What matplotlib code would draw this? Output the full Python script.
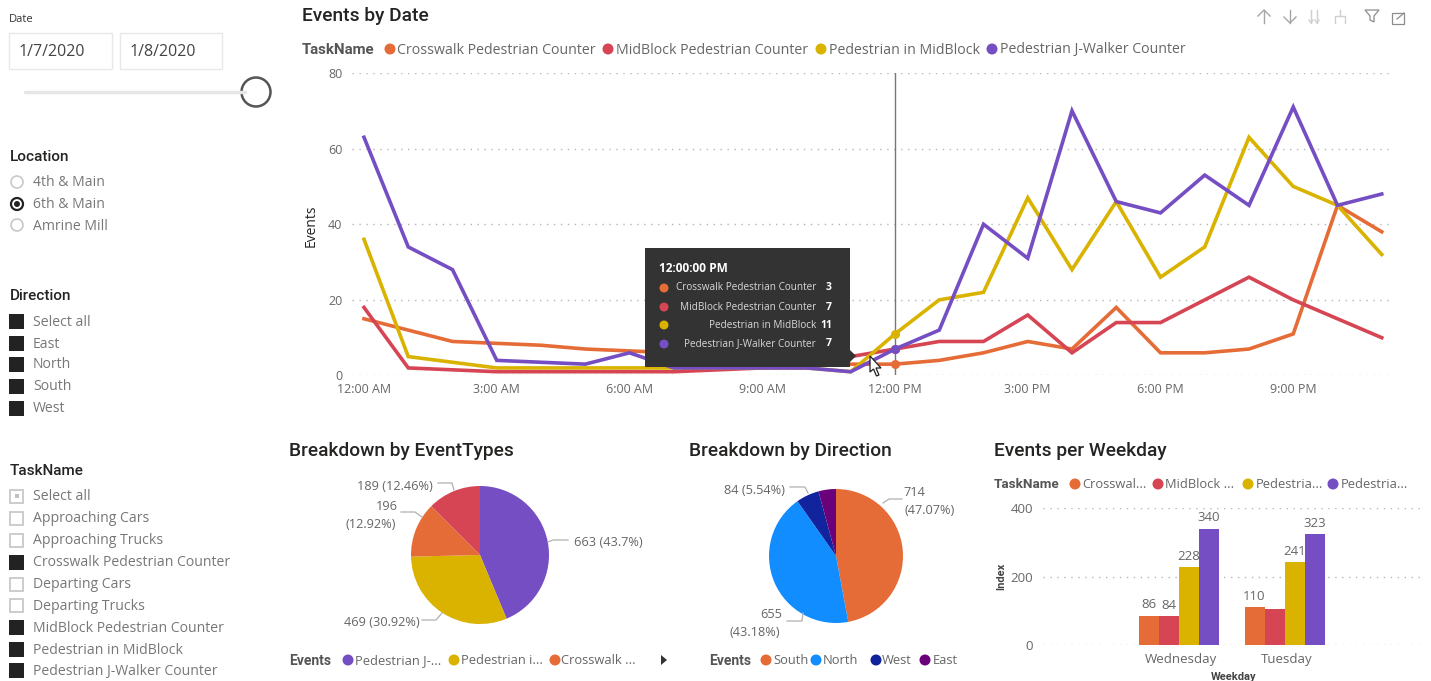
import numpy as np
import matplotlib
matplotlib.use('Agg')
import matplotlib.pyplot as plt
from matplotlib.patches import Rectangle, Circle, Polygon

W, H = 1431, 681

hours = list(range(24))
hour_ticks = [0, 3, 6, 9, 12, 15, 18, 21]
hour_labels = ['12:00 AM', '3:00 AM', '6:00 AM', '9:00 AM', '12:00 PM', '3:00 PM', '6:00 PM', '9:00 PM']
task_names = ['Crosswalk Pedestrian Counter', 'MidBlock Pedestrian Counter',
              'Pedestrian in MidBlock', 'Pedestrian J-Walker Counter']
crosswalk = [15, 12, 9, 8.5, 8, 7, 6.5, 6, 5, 5, 4, 3, 3, 4, 6, 9, 7, 18, 6, 6, 7, 11, 45, 38]
midblock = [18, 2, 1.5, 1, 1, 1, 1, 1, 1.5, 2, 2, 5, 7, 9, 9, 16, 6, 14, 14, 20, 26, 20, 15, 10]
in_midblock = [36, 5, 3.5, 2, 2, 2, 2, 2, 2, 2, 2, 1, 11, 20, 22, 47, 28, 46, 26, 34, 63, 50, 45, 32]
jwalker = [63, 34, 28, 4, 3.5, 3, 6, 2, 2, 2, 2, 1, 7, 12, 40, 31, 70, 46, 43, 53, 45, 71, 45, 48]

event_values = [663, 469, 196, 189]
direction_names = ['South', 'North', 'West', 'East']
direction_values = [714, 655, 84, 64]

weekdays = ['Wednesday', 'Tuesday']
weekday_crosswalk = [86, 110]
weekday_midblock = [84, 105]
weekday_in_midblock = [228, 241]
weekday_jwalker = [340, 323]
weekday_labels = [[86, 110], [84, None], [228, 241], [340, 323]]

locations = ['4th & Main', '6th & Main', 'Amrine Mill']
direction_items = ['Select all', 'East', 'North', 'South', 'West']
task_items = ['Select all', 'Approaching Cars', 'Approaching Trucks', 'Crosswalk Pedestrian Counter',
              'Departing Cars', 'Departing Trucks', 'MidBlock Pedestrian Counter',
              'Pedestrian in MidBlock', 'Pedestrian J-Walker Counter']
task_checked = [False, False, False, True, False, False, True, True, True]

ORANGE = '#E66C37'
RED = '#D64554'
YELLOW = '#D9B300'
PURPLE = '#744EC2'
BLUE = '#118DFF'
NAVY = '#12239E'
VIOLET = '#6B007B'
TEXT = '#666666'
DARK = '#252423'
task_colors = [ORANGE, RED, YELLOW, PURPLE]

plt.rcParams['font.family'] = ['Open Sans', 'DejaVu Sans']
BODY = 'Open Sans'
HEAD = 'Roboto'

fig = plt.figure(figsize=(W / 100, H / 100), dpi=100, facecolor='white')


# axes from pixel box, top-left origin
def px_axes(x0, y0, x1, y1):
    return fig.add_axes([x0 / W, 1 - y1 / H, (x1 - x0) / W, (y1 - y0) / H])


def style_cartesian(ax):
    for s in ax.spines.values():
        s.set_visible(False)
    ax.grid(axis='y', color='#b5b5b5', linestyle=(0, (1, 4)), linewidth=1)
    ax.set_axisbelow(True)
    ax.patch.set_alpha(0)


# Events by Date
ax = px_axes(352, 73, 1392, 375.5)
style_cartesian(ax)
ax.set_xlim((352 - 364) / 44.25, (1392 - 364) / 44.25)
ax.set_ylim(0, 80)
for vals, c in zip([crosswalk, midblock, in_midblock, jwalker], task_colors):
    ax.plot(hours, vals, color=c, linewidth=2.6, solid_joinstyle='miter', clip_on=False)
ax.axvline(12, color='#777777', linewidth=1, ymin=-0.005, zorder=5)
for vals, c in zip([crosswalk, midblock, in_midblock, jwalker], task_colors):
    ax.plot([12], [vals[12]], 'o', color=c, markersize=5.5, zorder=6, clip_on=False)
ax.set_xticks(hour_ticks, hour_labels)
ax.set_yticks([0, 20, 40, 60, 80])
ax.tick_params(length=0, labelcolor=TEXT, labelsize=9)
ax.tick_params(axis='x', pad=5.5)
ax.tick_params(axis='y', pad=7)
for t in ax.get_xticklabels() + ax.get_yticklabels():
    t.set_family(BODY)

# Breakdown pies
pie1 = px_axes(480 - 70, 555 - 70, 480 + 70, 555 + 70)
pie1.pie(event_values, colors=[PURPLE, YELLOW, ORANGE, RED], startangle=90, counterclock=False,
         radius=69 / 70, wedgeprops={'linewidth': 0})
pie1.set_xlim(-1, 1)
pie1.set_ylim(-1, 1)
pie2 = px_axes(836 - 70, 556 - 70, 836 + 70, 556 + 70)
pie2.pie(direction_values, colors=[ORANGE, BLUE, NAVY, VIOLET], startangle=90, counterclock=False,
         radius=67 / 70, wedgeprops={'linewidth': 0})
pie2.set_xlim(-1, 1)
pie2.set_ylim(-1, 1)

# Events per Weekday
bx = px_axes(1043, 508, 1425, 645)
style_cartesian(bx)
bx.set_xlim(0, 382)
bx.set_ylim(0, 400)
group_x = np.array([96, 201.5])
bar_w = 20
series = [weekday_crosswalk, weekday_midblock, weekday_in_midblock, weekday_jwalker]
for i, (vals, c) in enumerate(zip(series, task_colors)):
    xs = group_x + i * bar_w
    bx.bar(xs, vals, width=bar_w, color=c, align='edge', linewidth=0)
    for x, lab, v in zip(xs, weekday_labels[i], vals):
        if lab is not None:
            bx.text(x + bar_w / 2, v + 12, str(lab), ha='center', va='bottom', fontsize=9.5, color=TEXT,
                    family=BODY, clip_on=False)
bx.set_xticks(group_x + 2 * bar_w + 2, weekdays)
bx.set_yticks([0, 200, 400])
bx.tick_params(length=0, labelcolor=TEXT, labelsize=9.5)
bx.tick_params(axis='x', pad=6)
bx.tick_params(axis='y', pad=7)
for t in bx.get_xticklabels() + bx.get_yticklabels():
    t.set_family(BODY)

# overlay in pixels for everything that is report furniture
ov = fig.add_axes([0, 0, 1, 1], zorder=10)
ov.set_xlim(0, W)
ov.set_ylim(H, 0)
ov.axis('off')
ov.patch.set_alpha(0)


def txt(x, y, s, size=9.5, color=TEXT, weight='normal', ha='left', family=BODY, **kw):
    ov.text(x, y + 1, s, fontsize=size, color=color, fontweight=weight, ha=ha, va='center', family=family, **kw)


def dot(x, y, c, r=5.5):
    ov.add_patch(Circle((x, y), r, facecolor=c, edgecolor='none'))


def legend(x, y, title, title_size, items, size=9.5):
    txt(x, y, title, size=title_size, color='#555555', weight='bold', family=HEAD)
    for dx, lx, s, c in items:
        dot(dx, y, c)
        txt(lx, y, s, size=size)


# titles
TITLE_SIZE = 13.8
txt(302, 15, 'Events by Date', size=TITLE_SIZE, color=DARK, family=HEAD, weight='medium')
txt(289, 450, 'Breakdown by EventTypes', size=TITLE_SIZE, color=DARK, family=HEAD, weight='medium')
txt(689, 450, 'Breakdown by Direction', size=TITLE_SIZE, color=DARK, family=HEAD, weight='medium')
txt(994, 450, 'Events per Weekday', size=TITLE_SIZE, color=DARK, family=HEAD, weight='medium')

# legends
legend(302, 49, 'TaskName', 10.8, [(390, 397, task_names[0], ORANGE), (608, 616, task_names[1], RED),
                                   (821, 829, task_names[2], YELLOW), (992, 1000, task_names[3], PURPLE)], size=10.15)
legend(289, 660, 'Events', 10, [(348, 355, 'Pedestrian J-...', PURPLE), (454, 461, 'Pedestrian i...', YELLOW),
                                (555, 561, 'Crosswalk ...', ORANGE)], size=9.3)
legend(709, 660, 'Events', 10, [(766, 773, direction_names[0], ORANGE), (816, 823, direction_names[1], BLUE),
                                (876, 882, direction_names[2], NAVY), (925, 933, direction_names[3], VIOLET)], size=9.3)
legend(994, 484, 'TaskName', 9.7, [(1075, 1082, 'Crosswal...', ORANGE), (1158, 1165, 'MidBlock ...', RED),
                                   (1248, 1256, 'Pedestria...', YELLOW), (1333, 1341, 'Pedestria...', PURPLE)], size=9.3)
ov.add_patch(Polygon([(661, 655), (661, 665), (667, 660)], facecolor='#333333', edgecolor='none'))

# axis titles
txt(311, 225, 'Events', size=10, color=DARK, rotation=90, ha='center')
txt(1001, 575, 'Index', size=8, color='#444444', weight='bold', rotation=90, ha='center', family=HEAD)
txt(1234, 676, 'Weekday', size=8, color='#444444', weight='bold', ha='center', family=HEAD)

# pie labels with leader lines
LEADER = '#b0b0b0'
for pts in [[(438, 483), (452, 483), (454, 490)], [(401, 512), (415, 512), (422, 517)],
            [(548, 542), (553, 540), (568, 540)], [(422, 620), (436, 620), (442, 613)],
            [(790, 487), (805, 487), (808, 493)], [(883, 503), (889, 499), (902, 499)],
            [(787, 621), (802, 621), (803, 613)]]:
    ov.plot(*zip(*pts), color=LEADER, linewidth=0.9)
for x, y, s in [(395, 485, '189 (12.46%)'), (387, 505, '196'), (371, 523, '(12.92%)'), (608, 541, '663 (43.7%)'),
                (382, 621, '469 (30.92%)'), (755, 489, '84 (5.54%)'), (914, 492, '714'), (930, 510, '(47.07%)'),
                (771, 613, '655'), (755, 632, '(43.18%)')]:
    txt(x, y, s, size=9.2, ha='center')

# tooltip
TIP = '#333333'
ov.add_patch(Rectangle((645, 248), 205, 119, facecolor=TIP, edgecolor='none'))
ov.add_patch(Polygon([(850, 350), (856, 356), (850, 362)], facecolor=TIP, edgecolor='none'))
txt(659, 268, '12:00:00 PM', size=8.6, color='white', weight='bold')
for y, name, c, v in zip([287, 306, 324, 343], task_names, task_colors,
                         [crosswalk[12], midblock[12], in_midblock[12], jwalker[12]]):
    dot(664, y + 1, c, r=4.5)
    txt(816, y, name, size=7.2, color='#d8d8d8', ha='right')
    txt(832, y, str(v), size=7.5, color='white', weight='bold', ha='right')

# cursor
ov.add_patch(Polygon([(870, 356), (870, 372), (873.5, 369), (876.5, 376), (879, 375), (876, 368), (881, 368)],
                     facecolor='white', edgecolor='#222222', linewidth=0.9, zorder=12))

# visual header icons
ICON = '#a6a6a6'
for x, d in [(1264, 1), (1290, -1)]:
    ov.plot([x, x], [10, 23], color=ICON, linewidth=1)
    tip = 10 if d == 1 else 23
    ov.plot([x - 6, x, x + 6], [tip + d * 6, tip, tip + d * 6], color=ICON, linewidth=1)
for x in [1311, 1317]:
    ov.plot([x, x], [10, 23], color='#cfcfcf', linewidth=1)
    ov.plot([x - 2, x, x + 2], [20, 23, 20], color='#cfcfcf', linewidth=1)
ov.plot([1340, 1340], [10, 16], color='#cfcfcf', linewidth=1)
ov.plot([1335, 1335, 1345, 1345], [23, 16, 16, 23], color='#cfcfcf', linewidth=1)
ov.add_patch(Polygon([(1365, 10), (1379, 10), (1374, 16), (1374, 22), (1370, 20), (1370, 16)],
                     facecolor='none', edgecolor='#8c8c8c', linewidth=0.9))
ov.add_patch(Rectangle((1392, 13), 12, 11, facecolor='none', edgecolor='#8c8c8c', linewidth=0.9))
ov.plot([1397, 1404], [19, 13], color='#8c8c8c', linewidth=0.9)

# date slicer
txt(9, 18, 'Date', size=8, color='#333333')
for x0, x1, s in [(9, 112, '1/7/2020'), (120, 222, '1/8/2020')]:
    ov.add_patch(Rectangle((x0, 33), x1 - x0, 36, facecolor='white', edgecolor='#e8e8e8', linewidth=1))
    txt(x0 + 10, 51.5, s, size=11.5, color='#444444')
ov.plot([25, 245], [92, 92], color='#e6e6e6', linewidth=2.5, solid_capstyle='round')
ov.add_patch(Circle((256, 92), 14.5, facecolor='white', edgecolor='#555555', linewidth=1.8))

# location slicer
SLICER_SIZE = 10.1
txt(10, 156, 'Location', size=11, color=DARK, family=HEAD, weight='medium')
for i, (y, s) in enumerate(zip([182, 204, 225], locations)):
    if i == 1:
        ov.add_patch(Circle((17, y), 6, facecolor='white', edgecolor='#222222', linewidth=1.6))
        ov.add_patch(Circle((17, y), 3, facecolor='#222222', edgecolor='none'))
    else:
        ov.add_patch(Circle((17, y), 6, facecolor='white', edgecolor='#c8c8c8', linewidth=1.2))
    txt(33, y, s, size=SLICER_SIZE, color='#777777')

# direction slicer
txt(10, 295, 'Direction', size=11, color=DARK, family=HEAD, weight='medium')
for y, s in zip([321, 343, 364, 386, 408], direction_items):
    ov.add_patch(Rectangle((9, y - 7.5), 15, 15, facecolor='#222222', edgecolor='none'))
    txt(33, y, s, size=SLICER_SIZE, color='#777777')

# task slicer
txt(10, 470, 'TaskName', size=11, color=DARK, family=HEAD, weight='medium')
for i, (y, s, on) in enumerate(zip([496, 518, 540, 562, 584, 605, 627, 649, 670], task_items, task_checked)):
    if on:
        ov.add_patch(Rectangle((9, y - 7.5), 15, 15, facecolor='#222222', edgecolor='none'))
    else:
        ov.add_patch(Rectangle((10, y - 6.5), 13, 13, facecolor='white', edgecolor='#c8c8c8', linewidth=1.3))
        if i == 0:
            ov.add_patch(Rectangle((14.5, y - 2), 4, 4, facecolor='#c0c0c0', edgecolor='none'))
    txt(33, y, s, size=SLICER_SIZE, color='#777777')

fig.savefig('out.png', dpi=100)
